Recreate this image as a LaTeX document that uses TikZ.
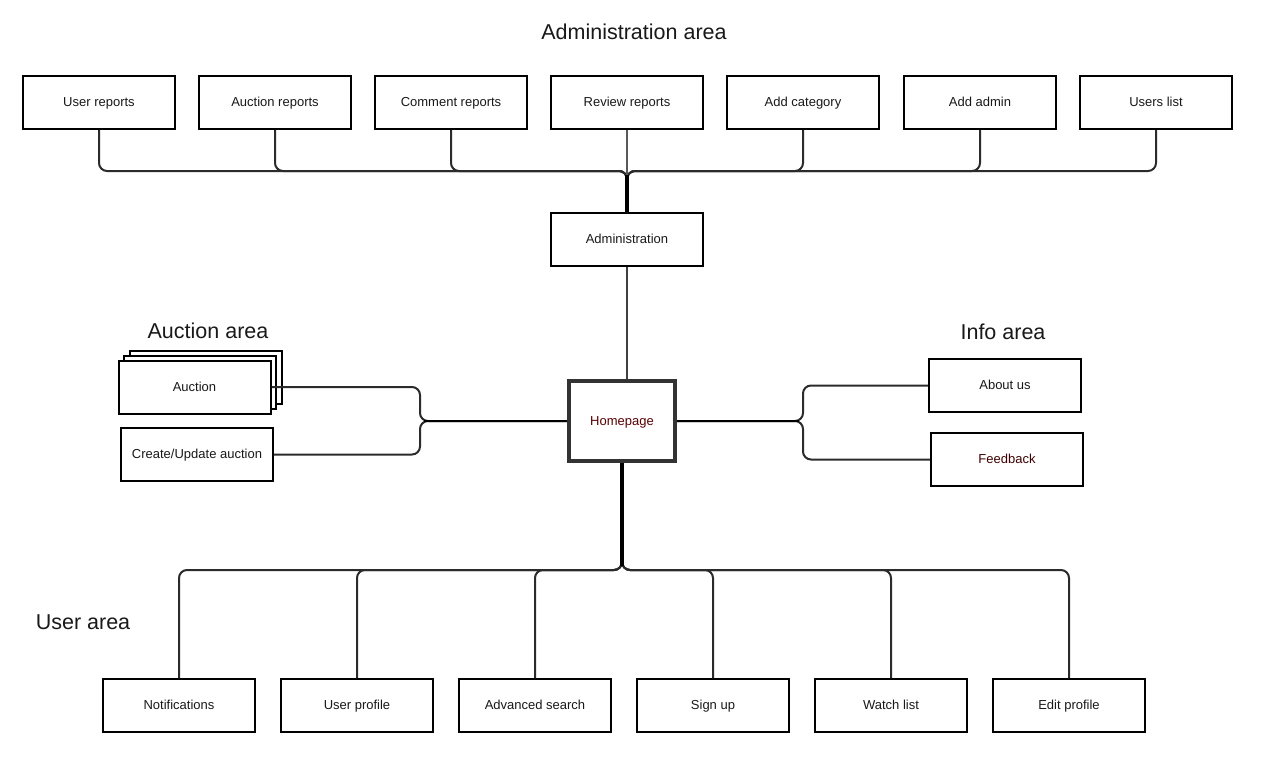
\documentclass[tikz,border=0pt]{standalone}
\usepackage{fontspec}
\setmainfont{Liberation Sans}
\definecolor{edgegray}{HTML}{2B2B2B}
\definecolor{homered}{HTML}{5A0000}
\begin{document}
\begin{tikzpicture}[x=1pt,y=-1pt,
  box/.style={draw=black, line width=2pt, fill=white, minimum width=152pt,
    minimum height=53pt, inner sep=0pt, text height=10.5pt, text depth=2.5pt,
    font=\fontsize{13}{15}\selectfont, text=black!90},
  homebox/.style={box, draw=black!80, line width=4pt, minimum width=106pt, minimum height=80pt},
  conn/.style={draw=edgegray, line width=2pt, rounded corners=8pt},
  trunk/.style={draw=black, line width=3.5pt},
  sidetrunk/.style={draw=black, line width=2.8pt},
  area/.style={font=\fontsize{21.5}{25}\selectfont, text=black!90}]
\useasboundingbox (0,0) rectangle (1263,764);

% area titles
\node[area] (tadm) at (634,32) {Administration area};
\node[area] (tauc) at (208,331) {Auction area};
\node[area] (tinf) at (1003,332) {Info area};
\node[area] (tusr) at (83,622) {User area};

% administration children
\node[box] (ur) at (99,102.5) {User reports};
\node[box] (ar) at (275,102.5) {Auction reports};
\node[box] (cr) at (451,102.5) {Comment reports};
\node[box] (rr) at (627,102.5) {Review reports};
\node[box] (ac) at (803,102.5) {Add category};
\node[box] (aa) at (980,102.5) {Add admin};
\node[box] (ul) at (1156,102.5) {Users list};

\node[box] (admin) at (627,239.5) {Administration};
\node[homebox] (home) at (622,421) {\textcolor{homered}{Homepage}};

% auction stack
\node[box] (auc3) at (205.5,377) {};
\node[box] (auc2) at (200,382) {};
\node[box] (auc) at (194.5,387) {Auction};
\node[box] (cua) at (197,454.5) {Create/Update auction};

% info
\node[box] (about) at (1005,385.5) {About us};
\node[box] (feed) at (1007,459.5) {\textcolor{homered!70!black}{Feedback}};

% user area
\node[box] (notif) at (179,705.5) {Notifications};
\node[box] (uprof) at (357,705.5) {User profile};
\node[box] (asrch) at (535,705.5) {Advanced search};
\node[box] (sign) at (713,705.5) {Sign up};
\node[box] (watch) at (891,705.5) {Watch list};
\node[box] (eprof) at (1069,705.5) {Edit profile};

% junction points of the brace connectors
\coordinate (aJ) at (627,171);
\coordinate (hJ) at (622,570);
\coordinate (lJ) at (420,421);
\coordinate (rJ) at (803,421);

% administration connectors
\foreach \n in {ur,ar,cr,ac,aa,ul}
  \draw[conn] (\n.south) |- (aJ) -- (admin.north);
\draw[conn, draw=black!65] (rr.south) -- (admin.north);
\draw[trunk] ([yshift=-4pt]aJ) -- (admin.north);

\draw[conn, draw=black!75] (admin.south) -- (admin.south |- home.north);

% auction connectors
\draw[conn] (auc.east) -| (lJ) -- (home.west);
\draw[conn] (cua.east) -| (lJ) -- (home.west);
\draw[sidetrunk] ([xshift=4pt]lJ) -- (home.west);

% info connectors
\draw[conn] (home.east) -- (rJ) |- (about.west);
\draw[conn] (home.east) -- (rJ) |- (feed.west);
\draw[sidetrunk] (home.east) -- ([xshift=-4pt]rJ);

% user connectors
\foreach \n in {notif,uprof,asrch,sign,watch,eprof}
  \draw[conn] (home.south) -- (hJ) -| (\n.north);
\draw[trunk] (home.south) -- ([yshift=4pt]hJ);

% redraw the homepage frame above the connector ends
\node[homebox, fill=none] at (home.center) {};
\end{tikzpicture}
\end{document}
